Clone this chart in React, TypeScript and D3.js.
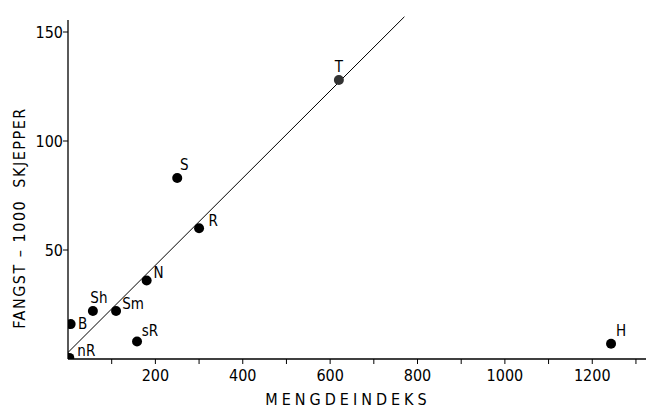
// App.tsx
import React, { useEffect, useRef } from 'react';
import * as d3 from 'd3';

// data
const labels = ['nR', 'B', 'Sh', 'Sm', 'sR', 'N', 'S', 'R', 'T', 'H'];
const mengdeindeks = [3, 6, 57, 110, 158, 180, 250, 300, 620, 1243];
const fangst = [0.5, 16, 22, 22, 8, 36, 83, 60, 128, 7];
// label offsets (px) relative to the dot
const labelDx = [17, 12, 6, 17, 13, 12, 7, 14, 0, 10];
const labelDy = [-7, 0, -13, -7, -11, -8, -13, -7, -13, -13];

const lineX = [0, 770];
const lineY = [3, 157];

const xTicks = [100, 200, 300, 400, 500, 600, 700, 800, 900, 1000, 1100, 1200, 1300];
const xTickLabels = [200, 400, 600, 800, 1000, 1200];
const yTicks = [50, 100, 150];

const FONT = '"DejaVu Sans Condensed", "Liberation Sans Narrow", "DejaVu Sans", sans-serif';

const Scatter = () => {
  const svgRef = useRef<SVGSVGElement>(null);

  useEffect(() => {
    const svg = d3.select(svgRef.current);
    svg.selectAll('*').remove();

    const width = 649;
    const height = 412;
    svg.attr('width', width).attr('height', height).style('background', 'white');

    const x = d3.scaleLinear().domain([0, 1323]).range([68, 646]);
    const y = d3.scaleLinear().domain([0, 150]).range([359, 32]);

    // clip dots to the plot area (nR sits in the corner)
    svg
      .append('clipPath')
      .attr('id', 'plot-clip')
      .append('rect')
      .attr('x', x(0))
      .attr('y', 0)
      .attr('width', width - x(0))
      .attr('height', y(0));

    // axes
    svg
      .append('line')
      .attr('x1', x(0))
      .attr('x2', x(1323))
      .attr('y1', y(0))
      .attr('y2', y(0))
      .attr('stroke', '#000')
      .attr('stroke-width', 1.3);
    svg
      .append('line')
      .attr('x1', x(0))
      .attr('x2', x(0))
      .attr('y1', y(0))
      .attr('y2', y(155.5))
      .attr('stroke', '#000')
      .attr('stroke-width', 1.3);

    svg
      .selectAll('.xtick')
      .data(xTicks)
      .enter()
      .append('line')
      .attr('class', 'xtick')
      .attr('x1', (d) => x(d))
      .attr('x2', (d) => x(d))
      .attr('y1', y(0))
      .attr('y2', y(0) + 5)
      .attr('stroke', '#000');

    svg
      .selectAll('.xlabel')
      .data(xTickLabels)
      .enter()
      .append('text')
      .attr('class', 'xlabel')
      .attr('x', (d) => x(d))
      .attr('y', y(0) + 22)
      .attr('text-anchor', 'middle')
      .attr('font-family', FONT)
      .attr('font-size', 16)
      .attr('fill', '#000')
      .text((d) => d);

    svg
      .selectAll('.ytick')
      .data(yTicks)
      .enter()
      .append('line')
      .attr('class', 'ytick')
      .attr('x1', x(0) - 5)
      .attr('x2', x(0))
      .attr('y1', (d) => y(d))
      .attr('y2', (d) => y(d))
      .attr('stroke', '#000');

    svg
      .selectAll('.ylabel')
      .data(yTicks)
      .enter()
      .append('text')
      .attr('class', 'ylabel')
      .attr('x', x(0) - 5)
      .attr('y', (d) => y(d) + 6)
      .attr('text-anchor', 'end')
      .attr('font-family', FONT)
      .attr('font-size', 16)
      .attr('fill', '#000')
      .text((d) => d);

    // axis titles
    svg
      .append('text')
      .attr('x', 348)
      .attr('y', 405)
      .attr('text-anchor', 'middle')
      .attr('font-family', FONT)
      .attr('font-size', 16)
      .attr('letter-spacing', 4)
      .attr('fill', '#000')
      .text('MENGDEINDEKS');

    svg
      .append('text')
      .attr('transform', 'translate(25,218) rotate(-90)')
      .attr('text-anchor', 'middle')
      .attr('font-family', FONT)
      .attr('font-size', 16)
      .attr('letter-spacing', 1.5)
      .attr('fill', '#000')
      .style('white-space', 'pre')
      .text('FANGST – 1000  SKJEPPER');

    // regression line
    svg
      .append('line')
      .attr('x1', x(lineX[0]))
      .attr('y1', y(lineY[0]))
      .attr('x2', x(lineX[1]))
      .attr('y2', y(lineY[1]))
      .attr('stroke', '#000')
      .attr('stroke-width', 1);

    const pts = labels.map((l, i) => ({ l, mx: mengdeindeks[i], f: fangst[i], dx: labelDx[i], dy: labelDy[i] }));

    svg
      .append('g')
      .attr('clip-path', 'url(#plot-clip)')
      .selectAll('.dot')
      .data(pts)
      .enter()
      .append('circle')
      .attr('class', 'dot')
      .attr('cx', (d) => x(d.mx))
      .attr('cy', (d) => y(d.f))
      .attr('r', 5)
      .attr('fill', (d) => (d.l === 'T' ? '#333' : '#000'));

    svg
      .selectAll('.plabel')
      .data(pts)
      .enter()
      .append('text')
      .attr('class', 'plabel')
      .attr('x', (d) => x(d.mx) + d.dx)
      .attr('y', (d) => y(d.f) + d.dy + 5)
      .attr('text-anchor', 'middle')
      .attr('font-family', FONT)
      .attr('font-size', 15)
      .attr('fill', '#000')
      .text((d) => d.l);
  }, []);

  return (
    <svg
      ref={svgRef}
      style={{ position: 'absolute', left: 0, top: 0, display: 'block' }}
    ></svg>
  );
};

export default function App() {
  return <Scatter />;
}
